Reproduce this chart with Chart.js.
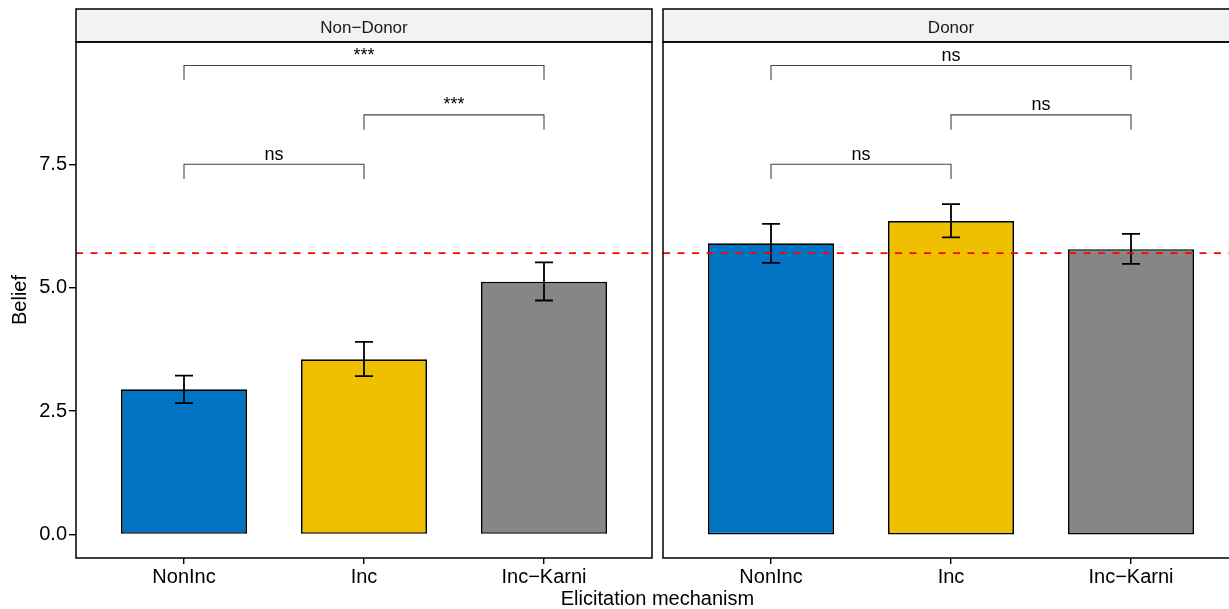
<!DOCTYPE html>
<html>
<head>
<meta charset="utf-8">
<script src="https://cdn.jsdelivr.net/npm/chart.js@4.4.1/dist/chart.umd.min.js"></script>
<style>
  html, body { margin: 0; padding: 0; background: #ffffff; overflow: hidden; }
  #wrap { position: relative; width: 1229px; height: 609px; overflow: hidden; }
  canvas { position: absolute; top: 0; }
  #xtitle { position: absolute; left: 407.5px; width: 500px; top: 587px; height: 24px; line-height: 24px;
            text-align: center; font: 20px "Liberation Sans", Arial, sans-serif; color: #000; }
</style>
</head>
<body>
<div id="wrap">
  <canvas id="left" width="656" height="609" style="left:0px;width:656px;height:609px"></canvas>
  <canvas id="right" width="600" height="609" style="left:657px;width:600px;height:609px"></canvas>
  <div id="xtitle">Elicitation mechanism</div>
</div>
<script>
// ---------- data ----------
const categories = ['NonInc', 'Inc', 'Inc\u2212Karni'];
const facetLabels = ['Non\u2212Donor', 'Donor'];
const yTicks = [0, 2.5, 5.0, 7.5];

const nonDonorMeans = [2.94, 3.55, 5.12];
const nonDonorLower = [2.66, 3.21, 4.74];
const nonDonorUpper = [3.22, 3.90, 5.51];

const donorMeans = [5.90, 6.35, 5.78];
const donorLower = [5.50, 6.02, 5.48];
const donorUpper = [6.29, 6.69, 6.09];

const referenceLine = 5.70;

const comparisons = [[1, 2], [2, 3], [1, 3]];
const bracketLevels = [7.5, 8.5, 9.5];
const nonDonorSignif = ['ns', '***', '***'];
const donorSignif = ['ns', 'ns', 'ns'];

const barColors = ['#0073C2', '#EFC000', '#868686'];

// ---------- styles ----------
const FONT = '"Liberation Sans", Arial, Helvetica, sans-serif';
const Y_MIN = -0.475, Y_MAX = 9.975;
const X_MIN = 0.4, X_MAX = 3.6;

function panelPlugin(opts) {
  return {
    id: 'panel_' + opts.id,
    afterDatasetsDraw(chart) {
      const ctx = chart.ctx;
      const xs = chart.scales.x, ys = chart.scales.y;
      const ca = chart.chartArea;
      ctx.save();
      // error bars
      ctx.strokeStyle = '#000';
      ctx.lineWidth = 1.8;
      opts.lower.forEach((lo, i) => {
        const hi = opts.upper[i];
        const xc = xs.getPixelForValue(i + 1);
        const xl = xs.getPixelForValue(i + 1 - 0.05);
        const xr = xs.getPixelForValue(i + 1 + 0.05);
        const yl = ys.getPixelForValue(lo), yh = ys.getPixelForValue(hi);
        ctx.beginPath();
        ctx.moveTo(xc, yl); ctx.lineTo(xc, yh);
        ctx.moveTo(xl, yl); ctx.lineTo(xr, yl);
        ctx.moveTo(xl, yh); ctx.lineTo(xr, yh);
        ctx.stroke();
      });
      // reference line
      const yr = ys.getPixelForValue(referenceLine);
      ctx.strokeStyle = '#ff0000';
      ctx.lineWidth = 1.8;
      ctx.setLineDash([7, 7.5]);
      ctx.beginPath();
      ctx.moveTo(ca.left, yr); ctx.lineTo(ca.right, yr);
      ctx.stroke();
      ctx.setLineDash([]);
      // brackets
      ctx.strokeStyle = '#444';
      ctx.lineWidth = 1.1;
      ctx.fillStyle = '#000';
      ctx.font = '18px ' + FONT;
      ctx.textAlign = 'center';
      ctx.textBaseline = 'alphabetic';
      comparisons.forEach((c, i) => {
        const x1 = xs.getPixelForValue(c[0]);
        const x2 = xs.getPixelForValue(c[1]);
        const y = ys.getPixelForValue(bracketLevels[i]);
        const yt = ys.getPixelForValue(bracketLevels[i] - 0.3);
        ctx.beginPath();
        ctx.moveTo(x1, yt); ctx.lineTo(x1, y); ctx.lineTo(x2, y); ctx.lineTo(x2, yt);
        ctx.stroke();
        ctx.fillText(opts.signif[i], (x1 + x2) / 2, y - 4.5);
      });
      ctx.restore();
    },
    afterDraw(chart) {
      const ctx = chart.ctx;
      const ca = chart.chartArea;
      ctx.save();
      // strip
      ctx.fillStyle = '#F2F2F2';
      ctx.fillRect(ca.left, 9, ca.right - ca.left, ca.top - 9);
      ctx.strokeStyle = '#000';
      ctx.lineWidth = 1.5;
      ctx.strokeRect(ca.left, 9, ca.right - ca.left, ca.top - 9);
      ctx.fillStyle = '#1a1a1a';
      ctx.font = '17px ' + FONT;
      ctx.textAlign = 'center';
      ctx.textBaseline = 'alphabetic';
      ctx.fillText(opts.facet, (ca.left + ca.right) / 2, 32.7);
      // panel border
      ctx.strokeRect(ca.left, ca.top, ca.right - ca.left, ca.bottom - ca.top);
      ctx.restore();
    }
  };
}

function makeChart(canvasId, means, lower, upper, signif, facet, isLeft) {
  const tickGrid = (len) => ({
    display: true, drawOnChartArea: false, drawTicks: true, offset: false,
    tickLength: len, color: '#000', lineWidth: 1.4
  });
  return new Chart(document.getElementById(canvasId), {
    type: 'bar',
    data: {
      datasets: [{
        data: means.map((v, i) => ({ x: i + 1, y: v })),
        backgroundColor: barColors,
        borderColor: '#000',
        borderWidth: 1.7,
        borderSkipped: false,
        barPercentage: 0.7,
        categoryPercentage: 1.0
      }]
    },
    options: {
      responsive: false,
      animation: false,
      events: [],
      layout: {
        padding: isLeft ? { top: 42, right: 4, bottom: 0, left: 0 }
                        : { top: 42, right: 18, bottom: 0, left: 6 }
      },
      plugins: { legend: { display: false }, tooltip: { enabled: false } },
      scales: {
        x: {
          type: 'linear', min: X_MIN, max: X_MAX, offset: false,
          afterBuildTicks: (s) => { s.ticks = categories.map((c, i) => ({ value: i + 1 })); },
          afterFit: (s) => { s.height = 51; },
          ticks: {
            autoSkip: false, maxRotation: 0, padding: 1, color: '#000',
            font: { size: 20, family: FONT },
            callback: (v) => categories[Math.round(v) - 1]
          },
          grid: tickGrid(6),
          border: { display: false }
        },
        y: {
          display: isLeft,
          min: Y_MIN, max: Y_MAX,
          afterBuildTicks: (s) => { s.ticks = yTicks.map(v => ({ value: v })); },
          afterFit: (s) => { s.width = isLeft ? 76 : 0; },
          ticks: {
            padding: 2, color: '#000',
            font: { size: 20, family: FONT },
            callback: (v) => Number(v).toFixed(1)
          },
          grid: tickGrid(7),
          border: { display: false },
          title: {
            display: true, text: 'Belief', color: '#000',
            font: { size: 20, family: FONT },
            padding: { top: 8, bottom: 0 }
          }
        }
      }
    },
    plugins: [panelPlugin({ id: canvasId, lower, upper, signif, facet })]
  });
}

makeChart('left', nonDonorMeans, nonDonorLower, nonDonorUpper, nonDonorSignif, facetLabels[0], true);
makeChart('right', donorMeans, donorLower, donorUpper, donorSignif, facetLabels[1], false);
</script>
</body>
</html>
